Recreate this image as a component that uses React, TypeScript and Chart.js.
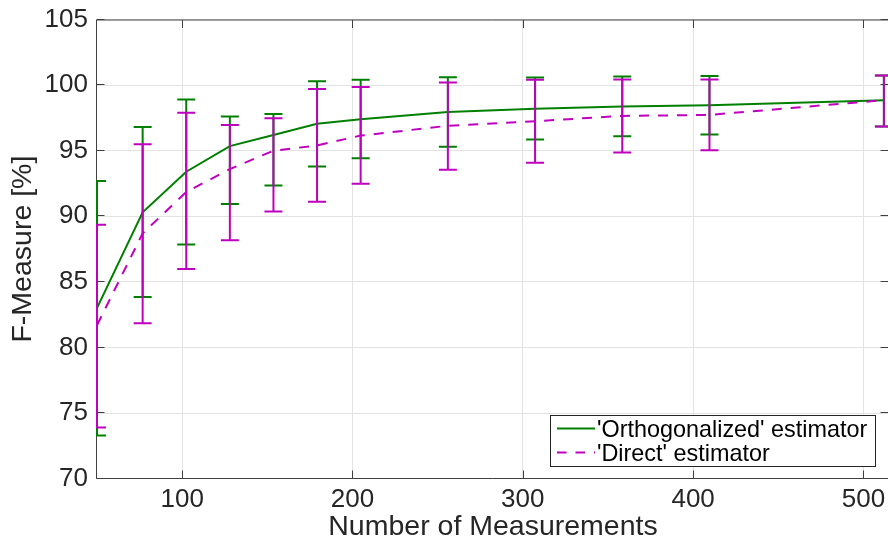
import { useEffect, useRef } from 'react';
import { Chart, registerables } from 'chart.js';

Chart.register(...registerables);

// ---- data ----
const measurements = [50, 76.8, 102.4, 128, 153.6, 179.2, 204.8, 256, 307.2, 358.4, 409.6, 512];

const orthMean = [83.0, 90.3, 93.4, 95.35, 96.2, 97.05, 97.4, 97.95, 98.2, 98.37, 98.46, 98.85];
const orthUpper = [92.7, 96.8, 98.9, 97.6, 97.8, 100.3, 100.4, 100.6, 100.57, 100.65, 100.7, 100.73];
const orthLower = [73.3, 83.85, 87.85, 90.93, 92.34, 93.8, 94.43, 95.3, 95.85, 96.1, 96.23, 96.84];

const directMean = [81.7, 88.7, 91.85, 93.6, 95.0, 95.4, 96.15, 96.9, 97.25, 97.65, 97.73, 98.85];
const directUpper = [89.35, 95.5, 97.9, 96.95, 97.48, 99.7, 99.86, 100.19, 100.4, 100.42, 100.42, 100.73];
const directLower = [73.9, 81.85, 85.98, 88.17, 90.36, 91.1, 92.48, 93.55, 94.08, 94.86, 95.04, 96.84];

const xTicks = [100, 200, 300, 400, 500];
const yTicks = [70, 75, 80, 85, 90, 95, 100, 105];

const seriesLabels = ["'Orthogonalized' estimator", "'Direct' estimator"];
const xTitle = 'Number of Measurements';
const yTitle = 'F-Measure [%]';

const GREEN = 'rgb(0,128,0)';
const MAGENTA = 'rgb(191,0,191)';
const TEXT = '#262626';
const FONT = '"Liberation Sans", Arial, Helvetica, sans-serif';

const errorSpecs = [
  { lower: orthLower, upper: orthUpper, color: GREEN },
  { lower: directLower, upper: directUpper, color: MAGENTA },
];

const errorBarPlugin = {
  id: 'errorBars',
  afterDatasetDraw(chart: any, args: any) {
    const spec = errorSpecs[args.index];
    if (!spec) return;
    const { ctx, chartArea, scales } = chart;
    const xs = scales.x;
    const ys = scales.y;
    ctx.save();
    ctx.beginPath();
    ctx.rect(chartArea.left - 1, chartArea.top - 2, chartArea.right - chartArea.left + 2, chartArea.bottom - chartArea.top + 4);
    ctx.clip();
    ctx.strokeStyle = spec.color;
    ctx.lineWidth = 2;
    ctx.setLineDash([]);
    ctx.lineCap = 'butt';
    measurements.forEach((m, i) => {
      const px = xs.getPixelForValue(m);
      const lo = ys.getPixelForValue(spec.lower[i]);
      const hi = ys.getPixelForValue(spec.upper[i]);
      ctx.beginPath();
      ctx.moveTo(px, lo);
      ctx.lineTo(px, hi);
      ctx.moveTo(px - 9, lo);
      ctx.lineTo(px + 9, lo);
      ctx.moveTo(px - 9, hi);
      ctx.lineTo(px + 9, hi);
      ctx.stroke();
    });
    ctx.restore();
  },
};

const framePlugin = {
  id: 'frame',
  beforeDatasetsDraw(chart: any) {
    const { ctx, chartArea, scales } = chart;
    const L = Math.round(chartArea.left) - 0.5;
    const R = Math.round(chartArea.right) - 0.5;
    const T = Math.round(chartArea.top) - 0.5 + 0.5;
    const B = Math.round(chartArea.bottom) - 0.5;
    ctx.save();
    ctx.strokeStyle = '#404040';
    ctx.lineWidth = 1;
    ctx.beginPath();
    ctx.rect(L, T, R - L, B - T);
    ctx.stroke();
    const tl = 8;
    ctx.beginPath();
    xTicks.forEach((v) => {
      const px = Math.round(scales.x.getPixelForValue(v)) + 0.5;
      ctx.moveTo(px, B);
      ctx.lineTo(px, B - tl);
      ctx.moveTo(px, T);
      ctx.lineTo(px, T + tl);
    });
    yTicks.forEach((v) => {
      const py = Math.round(scales.y.getPixelForValue(v)) - 0.5;
      ctx.moveTo(L, py);
      ctx.lineTo(L + tl, py);
      ctx.moveTo(R, py);
      ctx.lineTo(R - tl, py);
    });
    ctx.stroke();
    ctx.restore();
  },
};

const legendPlugin = {
  id: 'boxLegend',
  afterDraw(chart: any) {
    const { ctx } = chart;
    const bx = 550.5;
    const by = 415.5;
    const bw = 325;
    const bh = 51;
    ctx.save();
    ctx.fillStyle = '#ffffff';
    ctx.fillRect(bx, by, bw, bh);
    ctx.strokeStyle = '#262626';
    ctx.lineWidth = 1;
    ctx.strokeRect(bx, by, bw, bh);
    ctx.lineWidth = 2;
    ctx.strokeStyle = GREEN;
    ctx.setLineDash([]);
    ctx.beginPath();
    ctx.moveTo(557, 428.5);
    ctx.lineTo(595, 428.5);
    ctx.stroke();
    ctx.strokeStyle = MAGENTA;
    ctx.setLineDash([9.5, 9]);
    ctx.beginPath();
    ctx.moveTo(557, 452.5);
    ctx.lineTo(595, 452.5);
    ctx.stroke();
    ctx.setLineDash([]);
    ctx.fillStyle = '#000000';
    ctx.font = `23.4px ${FONT}`;
    ctx.textBaseline = 'alphabetic';
    ctx.textAlign = 'left';
    ctx.fillText(seriesLabels[0], 597, 436.7);
    ctx.fillText(seriesLabels[1], 597, 461);
    ctx.restore();
  },
};

export default function App() {
  const canvasRef = useRef<HTMLCanvasElement | null>(null);

  useEffect(() => {
    const canvas = canvasRef.current;
    if (!canvas) return;
    const chart = new Chart(canvas, {
      type: 'line',
      data: {
        datasets: [
          {
            label: seriesLabels[0],
            data: measurements.map((x, i) => ({ x, y: orthMean[i] })),
            borderColor: GREEN,
            backgroundColor: GREEN,
            borderWidth: 2,
            pointRadius: 0,
            tension: 0,
            fill: false,
            order: 1,
          },
          {
            label: seriesLabels[1],
            data: measurements.map((x, i) => ({ x, y: directMean[i] })),
            borderColor: MAGENTA,
            backgroundColor: MAGENTA,
            borderWidth: 2,
            borderDash: [10, 9],
            pointRadius: 0,
            tension: 0,
            fill: false,
            order: 0,
          },
        ],
      },
      options: {
        animation: false,
        responsive: false,
        maintainAspectRatio: false,
        devicePixelRatio: 1,
        layout: { padding: { top: 19.5, left: 0, right: 0, bottom: 0 } },
        plugins: {
          legend: { display: false },
          tooltip: { enabled: false },
        },
        scales: {
          x: {
            type: 'linear',
            min: 50,
            max: 515,
            afterBuildTicks: (scale: any) => {
              scale.ticks = xTicks.map((v) => ({ value: v }));
            },
            afterFit: (scale: any) => {
              scale.height = 64.3;
              scale.paddingLeft = 0;
              scale.paddingRight = 0;
            },
            border: { display: false },
            grid: { color: '#e3e3e3', lineWidth: 1, drawTicks: false },
            ticks: {
              autoSkip: false,
              maxRotation: 0,
              padding: 5.4,
              color: TEXT,
              font: { family: FONT, size: 26 },
              callback: (v: any) => String(v),
            },
            title: {
              display: true,
              text: xTitle,
              color: TEXT,
              font: { family: FONT, size: 28.5, lineHeight: 1 },
              padding: { top: 0, bottom: 1.9 },
            },
          },
          y: {
            type: 'linear',
            min: 70,
            max: 105,
            afterBuildTicks: (scale: any) => {
              scale.ticks = yTicks.map((v) => ({ value: v }));
            },
            afterFit: (scale: any) => {
              scale.width = 97;
              scale.paddingTop = 0;
              scale.paddingBottom = 0;
            },
            border: { display: false },
            grid: { color: '#e3e3e3', lineWidth: 1, drawTicks: false },
            ticks: {
              padding: 9,
              color: TEXT,
              font: { family: FONT, size: 26 },
              callback: (v: any) => String(v),
            },
            title: {
              display: true,
              text: yTitle,
              color: TEXT,
              font: { family: FONT, size: 28.5, lineHeight: 1 },
              padding: { top: 8.5, bottom: 0 },
            },
          },
        },
      },
      plugins: [framePlugin, errorBarPlugin, legendPlugin],
    } as any);
    return () => chart.destroy();
  }, []);

  return (
    <div
      style={{
        position: 'fixed',
        left: 0,
        top: 0,
        width: 888,
        height: 543,
        overflow: 'hidden',
        background: '#ffffff',
      }}
    >
      <canvas ref={canvasRef} width={889} height={543} style={{ display: 'block' }} />
    </div>
  );
}
